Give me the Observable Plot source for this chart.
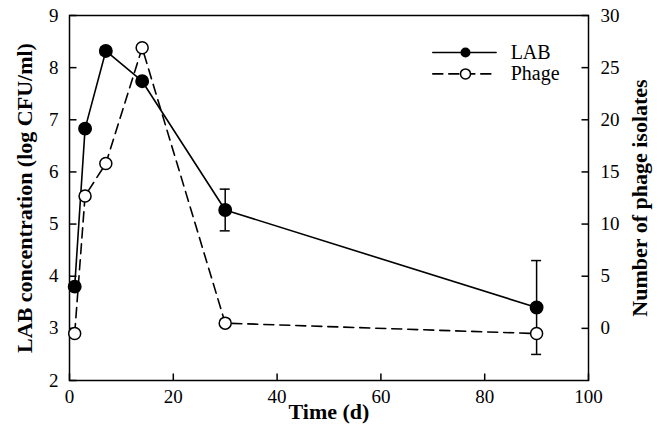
<!DOCTYPE html>
<html>
<head>
<meta charset="utf-8">
<script src="https://cdn.jsdelivr.net/npm/d3@7"></script>
<script src="https://cdn.jsdelivr.net/npm/@observablehq/plot@0.6"></script>
<style>
  html, body { margin: 0; padding: 0; background: #fff; }
  #chart svg, #chart svg text { font-family: "Liberation Serif", "Times New Roman", Times, serif !important; }
</style>
</head>
<body>
<div id="chart"></div>
<script>
// Data
const days = [1, 3, 7, 14, 30, 90];
const labMean = [3.8, 6.83, 8.32, 7.74, 5.27, 3.4];
const labErr = [0.08, 0.05, 0.07, 0.04, 0.4, 0.9];
const phageCount = [-0.5, 12.7, 15.8, 26.9, 0.5, -0.5];

const xTicks = [0, 20, 40, 60, 80, 100];
const leftTicks = [2, 3, 4, 5, 6, 7, 8, 9];
const rightTicks = [0, 5, 10, 15, 20, 25, 30];

const legendLabels = ["LAB", "Phage"];
const legendY = [8.29, 7.88];
const legendLineX = [70, 82.2];
const legendMarkX = 76.3;
const legendTextX = 85;

const FONT = "'Liberation Serif', 'Times New Roman', Times, serif";

const xDomain = [0, 100];
const yDomain = [2, 9];

// right axis (phage count) maps onto left scale: left = count/5 + 3
const toLeft = c => c / 5 + 3;

const lab = days.map((t, i) => ({t, y: labMean[i], lo: labMean[i] - labErr[i], hi: labMean[i] + labErr[i]}));
const phage = days.map((t, i) => ({t, y: toLeft(phageCount[i])}));

const legLab = legendLineX.map(x => ({x, y: legendY[0]}));
const legPhage = legendLineX.map(x => ({x, y: legendY[1]}));
const legDots = legendLabels.map((label, i) => ({label, x: legendMarkX, tx: legendTextX, y: legendY[i]}));

const rightTickPos = rightTicks.map(toLeft);

// inward tick symbols (short strokes pointing into the frame)
const TICK = 7;
const tickUp = {draw(ctx) { ctx.moveTo(0, 0); ctx.lineTo(0, -TICK); }};
const tickRight = {draw(ctx) { ctx.moveTo(0, 0); ctx.lineTo(TICK, 0); }};
const tickLeft = {draw(ctx) { ctx.moveTo(0, 0); ctx.lineTo(-TICK, 0); }};
const xTickRows = xTicks.map(v => ({v, base: yDomain[0]}));
const leftTickRows = leftTicks.map(v => ({v, edge: xDomain[0]}));
const rightTickRows = rightTickPos.map(v => ({v, edge: xDomain[1]}));

const chart = Plot.plot({
  width: 665,
  height: 437,
  marginLeft: 69,
  marginRight: 77,
  marginTop: 15,
  marginBottom: 57,
  style: {fontFamily: FONT, fontSize: "19px", color: "#000", background: "#fff"},
  x: {domain: xDomain},
  y: {domain: yDomain},
  marks: [
    Plot.frame({stroke: "#000", strokeWidth: 1.5}),
    Plot.dot(xTickRows, {x: "v", y: "base", symbol: tickUp, fill: "none", stroke: "#000", strokeWidth: 1.5}),
    Plot.dot(leftTickRows, {x: "edge", y: "v", symbol: tickRight, fill: "none", stroke: "#000", strokeWidth: 1.5}),
    Plot.dot(rightTickRows, {x: "edge", y: "v", symbol: tickLeft, fill: "none", stroke: "#000", strokeWidth: 1.5}),
    // tick labels
    Plot.axisX({ticks: xTicks, tickSize: 0, tickPadding: 9, label: null, fontSize: 19, fontFamily: FONT}),
    Plot.axisY({anchor: "left", ticks: leftTicks, tickFormat: d => String(d), tickSize: 0, tickPadding: 11, label: null, fontSize: 19, fontFamily: FONT}),
    Plot.axisY({anchor: "right", ticks: rightTickPos, tickFormat: v => String(Math.round((v - 3) * 5)), tickSize: 0, tickPadding: 12, label: null, fontSize: 19, fontFamily: FONT}),
    // axis titles
    Plot.text(["LAB concentration (log CFU/ml)"], {frameAnchor: "left", textAnchor: "middle", lineAnchor: "middle", rotate: -90, dx: -45, fontWeight: "bold", fontSize: 22, fontFamily: FONT}),
    Plot.text(["Number of phage isolates"], {frameAnchor: "right", textAnchor: "middle", lineAnchor: "middle", rotate: -90, dx: 51, fontWeight: "bold", fontSize: 22, fontFamily: FONT}),
    Plot.text(["Time (d)"], {frameAnchor: "bottom", textAnchor: "middle", lineAnchor: "middle", dy: 31, fontWeight: "bold", fontSize: 22, fontFamily: FONT}),
    // error bars
    Plot.ruleX(lab, {x: "t", y1: "lo", y2: "hi", stroke: "#000", strokeWidth: 1.5}),
    Plot.ruleY(lab, {y: "lo", x1: "t", x2: "t", insetLeft: -5, insetRight: -5, stroke: "#000", strokeWidth: 1.5}),
    Plot.ruleY(lab, {y: "hi", x1: "t", x2: "t", insetLeft: -5, insetRight: -5, stroke: "#000", strokeWidth: 1.5}),
    // lines
    Plot.line(phage, {x: "t", y: "y", stroke: "#000", strokeWidth: 1.6, strokeDasharray: "10,6"}),
    Plot.line(lab, {x: "t", y: "y", stroke: "#000", strokeWidth: 1.6}),
    Plot.dot(phage, {x: "t", y: "y", r: 6, fill: "#fff", stroke: "#000", strokeWidth: 1.5}),
    Plot.dot(lab, {x: "t", y: "y", r: 6.2, fill: "#000", stroke: "#000"}),
    // legend
    Plot.line(legLab, {x: "x", y: "y", stroke: "#000", strokeWidth: 1.6}),
    Plot.line(legPhage, {x: "x", y: "y", stroke: "#000", strokeWidth: 1.6, strokeDasharray: "10,6"}),
    Plot.dot(legDots.slice(0, 1), {x: "x", y: "y", r: 5, fill: "#000"}),
    Plot.dot(legDots.slice(1), {x: "x", y: "y", r: 5, fill: "#fff", stroke: "#000", strokeWidth: 1.5}),
    Plot.text(legDots, {x: "tx", y: "y", text: "label", textAnchor: "start", fontSize: 20, fontFamily: FONT})
  ]
});
document.getElementById("chart").appendChild(chart);
</script>
</body>
</html>
